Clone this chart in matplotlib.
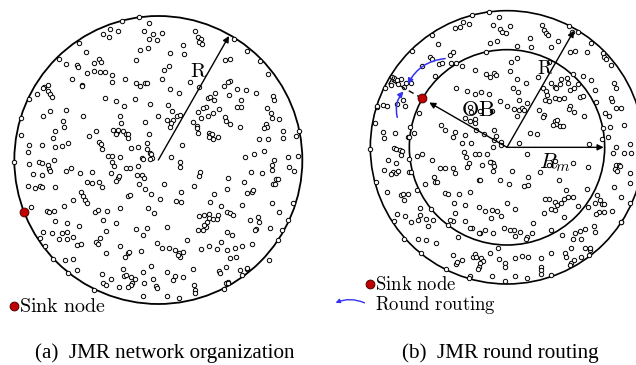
import matplotlib
matplotlib.use("Agg")
import matplotlib.pyplot as plt
from matplotlib.patches import Circle, FancyArrowPatch
import numpy as np

plt.rcParams['mathtext.fontset'] = 'cm'

# ---------------- data (node positions; units = 1/3 px) -------------
# panel (a): network organization
a_boundary_x = [418, 366, 238, 177, 88, 64, 62, 42, 93, 119, 136, 160, 205, 283, 703, 742, 780, 803, 896, 895, 880, 865, 846, 835, 808, 740, 727, 685, 673]
a_boundary_y = [52, 63, 128, 176, 296, 353, 405, 486, 620, 713, 738, 778, 818, 870, 118, 152, 183, 221, 393, 468, 608, 660, 690, 720, 780, 805, 825, 848, 866]
a_nodes_x = [448, 330, 354, 310, 326, 433, 458, 448, 471, 485, 585, 593, 604, 598, 606, 549, 551, 509, 444, 420, 408, 257, 197, 230, 234, 281, 297, 304, 262, 281, 301, 314, 336, 215, 247, 245, 337, 376, 407, 420, 435, 441, 485, 492, 507, 571, 598, 509, 536, 133, 143, 128, 145, 150, 155, 110,
             674, 689, 690, 683, 671, 710, 738, 768, 820, 822, 800, 722, 722, 710, 687, 645, 625, 630, 643, 617, 609, 640, 657, 594, 603, 623, 580, 676, 679, 689, 719, 812, 816, 838, 797, 800, 793, 848, 888, 803, 778, 848, 591, 592, 594, 626, 631, 636, 640, 653, 627, 545,
             128, 150, 197, 188, 192, 250, 359, 362, 373, 349, 316, 405, 450, 505, 517, 530, 541, 520, 500, 511, 513, 475, 435, 350, 339, 353, 348, 370, 377, 385, 383, 448, 413, 393, 440, 440, 449, 452, 427, 455, 268, 288, 298, 304, 307, 323, 337, 361, 336, 342, 377, 389, 414, 430, 450, 165, 160, 165, 185, 205, 125, 86, 84, 88, 117, 127, 144, 146, 150, 163, 98, 127, 198, 213, 240, 276, 84, 104, 120, 125, 164, 261, 276, 298, 306, 334, 353, 349, 357, 412, 425, 432, 493, 416, 434, 383, 389, 452, 480, 528, 542, 542, 512, 539, 541, 601, 581, 597,
             683, 731, 680, 740, 755, 760, 753, 787, 822, 817, 815, 827, 833, 820, 825, 863, 868, 883, 735, 762, 793, 641, 630, 664, 680, 690, 596, 611, 627, 628, 640, 650, 655, 622, 619, 608, 595, 612, 698, 726, 750, 775, 777, 769, 764, 815, 836, 810, 680, 695,
             142, 148, 162, 192, 220, 243, 248, 255, 260, 284, 293, 322, 308, 165, 200, 238, 186, 200, 155, 130, 176, 200, 218, 230, 243, 288, 300, 294, 319, 348, 360, 408, 442, 430, 463, 445, 502, 470, 485, 507, 524, 537, 541, 548, 533, 560, 422, 383, 388, 375, 360, 318, 194, 218, 231, 307, 310, 318, 333, 357, 370, 373, 379, 393, 397, 392, 384, 405, 428, 453, 432, 460, 468, 470, 500, 520, 525, 550, 580, 583, 585, 586, 602, 627, 650, 664, 680, 690, 709, 704, 726, 757, 657, 660, 678, 679, 684, 720, 740, 430, 500, 536]
a_nodes_y = [70, 87, 93, 103, 110, 93, 103, 116, 120, 99, 93, 110, 118, 127, 131, 135, 163, 160, 143, 150, 180, 157, 193, 195, 200, 189, 178, 185, 218, 214, 215, 215, 224, 238, 255, 258, 245, 237, 248, 257, 248, 249, 237, 210, 198, 245, 262, 266, 278, 262, 254, 265, 272, 283, 290, 282,
             180, 177, 242, 247, 258, 268, 270, 280, 287, 300, 325, 299, 321, 321, 286, 279, 293, 290, 300, 320, 325, 340, 328, 335, 355, 349, 365, 351, 363, 371, 381, 340, 355, 357, 372, 380, 385, 392, 408, 417, 417, 415, 378, 384, 398, 400, 406, 402, 418, 412, 410, 435,
             348, 332, 330, 363, 380, 348, 348, 368, 318, 302, 295, 297, 312, 316, 333, 348, 345, 360, 360, 381, 368, 348, 367, 395, 390, 389, 403, 392, 403, 403, 413, 402, 441, 445, 430, 447, 458, 462, 473, 473, 408, 393, 427, 432, 447, 468, 467, 470, 486, 497, 503, 505, 498, 477, 478, 393, 415, 440, 437, 428, 435, 435, 455, 493, 487, 490, 495, 508, 514, 481, 522, 526, 512, 505, 520, 515, 557, 565, 558, 562, 560, 546, 550, 547, 560, 518, 534, 542, 528, 526, 524, 535, 553, 551, 568, 588, 585, 583, 598, 603, 605, 575, 470, 485, 500, 515, 559, 528,
             534, 545, 568, 578, 575, 570, 516, 518, 480, 495, 510, 536, 538, 553, 553, 470, 500, 512, 470, 462, 453, 583, 605, 617, 636, 640, 648, 645, 643, 654, 658, 657, 645, 667, 680, 690, 690, 675, 645, 616, 660, 652, 665, 686, 690, 608, 637, 685, 697, 706,
             634, 636, 632, 617, 600, 575, 588, 600, 608, 636, 630, 632, 660, 662, 668, 677, 698, 697, 700, 695, 718, 717, 712, 735, 733, 727, 713, 733, 694, 668, 624, 686, 683, 706, 638, 623, 680, 730, 745, 745, 750, 760, 770, 755, 765, 720, 752, 760, 755, 772, 738, 760, 780, 777, 810, 822, 850, 855, 838, 862, 808, 828, 826, 830, 848, 855, 860, 838, 817, 798, 850, 838, 858, 863, 815, 840, 828, 830, 808, 855, 870, 878, 748, 737, 746, 727, 750, 773, 770, 744, 738, 732, 812, 820, 800, 848, 845, 810, 806, 888, 888, 893]

# panel (b): round routing
b_outer_x = [463, 513, 343, 283, 221, 177, 172, 155, 175, 229, 258, 310, 383, 452, 560, 700, 768, 858, 910, 935, 937, 918, 880, 855, 819, 781, 752]
b_outer_y = [46, 37, 105, 152, 230, 318, 370, 447, 546, 663, 718, 760, 808, 835, 843, 825, 780, 612, 667, 608, 550, 375, 295, 158, 130, 97, 79]
b_inner_x = [503, 350, 302, 272, 272, 280, 298, 340, 389, 483, 592, 700, 810, 855, 852, 833, 765, 693]
b_inner_y = [157, 228, 340, 410, 478, 517, 570, 627, 675, 700, 707, 690, 620, 385, 417, 305, 222, 185]
b_nodes_x = [427, 434, 452, 410, 524, 543, 546, 551, 565, 577, 517, 538, 598, 637, 640, 672, 679, 683, 690, 700, 720, 761, 755, 771, 807, 857, 863, 878, 360, 395, 404, 400, 413, 335, 342, 311, 362, 372, 248, 227, 236, 263, 278, 240, 258, 200, 218, 178, 196, 208, 238, 255, 260,
             195, 197, 231, 275, 270, 287, 228, 235, 246, 253, 250, 210, 235, 197, 226, 233, 240, 218, 272, 206, 250, 254, 270, 258, 238, 260, 278, 305, 306, 301, 323, 346, 330, 300, 323, 355, 420, 405, 413, 418, 432, 464, 470, 475, 490, 495, 487, 483, 480, 517, 540, 543, 560, 560, 590, 612, 630, 668, 668, 668, 668, 700, 741, 745, 760, 756, 790, 812, 815, 456, 522, 592, 626,
             888, 893, 883, 893, 910, 860, 873, 876, 870, 893, 918, 935, 940, 885, 895, 903, 907, 890, 898, 937, 887, 910, 837, 847, 852, 830, 842, 833, 858, 883, 908, 787, 802, 828, 830, 770, 733, 766, 790, 760, 800, 815, 628, 624, 641, 605, 588, 575, 558, 525, 500, 485, 462, 405, 396, 440,
             433, 470, 503, 515, 528, 535, 575, 580, 597, 598, 625, 584, 601, 602, 587, 603, 613, 628, 618, 598, 567, 547, 523, 513, 488, 470, 447, 415, 455, 458, 440, 455, 470, 470, 486, 527, 533, 527, 548, 548, 525, 497, 475, 440, 410, 405, 382, 370, 432, 437, 443, 458, 472, 483, 508, 520, 524, 528, 515, 491, 452, 448, 405, 410, 382, 365, 342, 313, 298, 320, 348, 352, 357, 381, 390, 408, 424, 456, 482, 487, 524, 545, 572, 582, 618, 629, 630, 667, 694, 712, 722, 744, 764, 809, 808, 779, 765, 750, 738, 730, 711, 718, 700, 693, 681, 679, 710, 738, 644, 567, 521, 537, 548, 502, 520, 483, 440, 410, 457, 592,
             660, 675, 685, 699, 710, 713, 725, 728, 750, 755, 767, 781, 787, 795, 818, 830, 710, 688, 680, 693, 722, 738, 757, 754, 767, 797, 663, 678, 676, 710, 713, 718, 725, 735, 704, 636, 602, 628, 656, 813, 748, 795]
b_nodes_y = [80, 67, 73, 85, 75, 52, 87, 97, 100, 77, 130, 122, 137, 115, 140, 75, 90, 100, 105, 140, 122, 97, 155, 153, 155, 172, 177, 195, 133, 165, 157, 188, 188, 172, 177, 197, 192, 190, 238, 233, 240, 248, 250, 253, 260, 265, 255, 320, 315, 317, 312, 300, 317,
             395, 415, 398, 380, 410, 400, 443, 447, 450, 452, 465, 480, 488, 510, 515, 518, 513, 522, 515, 575, 585, 583, 583, 600, 643, 647, 665, 625, 645, 660, 658, 660, 678, 718, 720, 730, 710, 765, 793, 787, 780, 770, 762, 770, 773, 784, 790, 800, 806, 758, 743, 778, 790, 800, 775, 768, 770, 775, 800, 810, 822, 760, 760, 770, 790, 795, 770, 765, 750, 827, 828, 828, 835,
             248, 263, 303, 325, 325, 340, 348, 380, 410, 440, 460, 432, 460, 460, 494, 495, 497, 508, 512, 518, 560, 590, 585, 600, 612, 608, 635, 641, 637, 633, 665, 692, 688, 677, 697, 700, 705, 718, 718, 743, 745, 745, 712, 718, 700, 697, 690, 690, 683, 700, 690, 698, 684, 662, 661, 664,
             197, 211, 222, 230, 220, 225, 212, 185, 173, 238, 250, 264, 275, 300, 328, 330, 325, 310, 330, 348, 317, 303, 333, 282, 275, 282, 272, 265, 320, 335, 355, 362, 357, 370, 332, 390, 407, 420, 427, 436, 440, 402, 390, 405, 395, 410, 390, 375, 428, 455, 470, 428, 462, 462, 462, 485, 490, 498, 485, 496, 490, 500, 505, 520, 503, 503, 480, 462, 468, 552, 532, 546, 546, 580, 583, 608, 583, 576, 540, 540, 512, 540, 553, 512, 557, 556, 530, 516, 495, 483, 540, 570, 490, 500, 567, 617, 590, 590, 596, 608, 606, 614, 628, 597, 598, 640, 630, 650, 670, 610, 630, 633, 648, 632, 655, 622, 615, 638, 683, 628,
             230, 265, 273, 250, 260, 263, 253, 237, 250, 270, 265, 253, 290, 288, 240, 270, 295, 285, 300, 302, 297, 295, 318, 326, 337, 348, 330, 345, 350, 362, 373, 360, 378, 378, 376, 398, 430, 462, 402, 432, 233, 228]

# geometry (same units)
a_center = (475, 480)
a_radius = 432
a_sink = (72, 636)
b_center = (567, 442)
b_outer_r = 410
b_inner_r = 293
b_sink = (312, 295)

# ---------------- figure ----------------
W, H = 636, 365
fig = plt.figure(figsize=(W / 100, H / 100), dpi=100)

def panel_axes(x0):
    ax = fig.add_axes([x0 / W, 0, 318 / W, 1])
    ax.set_xlim(0, 954)
    ax.set_ylim(1095, 0)
    ax.axis('off')
    return ax

node_kw = dict(s=10, facecolors='white', edgecolors='black', linewidths=0.7, zorder=3, clip_on=False)
sink_kw = dict(s=40, facecolors='#c00000', edgecolors='#500000', linewidths=0.7, zorder=5, clip_on=False)
arrow_kw = dict(arrowstyle='-|>', mutation_scale=9, color='black', lw=1.0, zorder=4)

# ---- panel (a)
axa = panel_axes(0)
axa.add_patch(Circle(a_center, a_radius, fill=False, ec='black', lw=1.3, zorder=2, clip_on=False))
axa.scatter(a_nodes_x, a_nodes_y, **node_kw)
axa.scatter(a_boundary_x, a_boundary_y, **node_kw)
axa.add_patch(FancyArrowPatch(a_center, (687, 108), shrinkA=0, shrinkB=0, **arrow_kw))
axa.text(597, 212, r'$\mathrm{R}$', fontsize=15, ha='center', va='center')
axa.scatter([a_sink[0]], [a_sink[1]], **sink_kw)
axa.scatter([42], [918], **sink_kw)
axa.text(58, 918, r'$\mathrm{Sink\ node}$', fontsize=14.5, ha='left', va='center')

# ---- panel (b)
axb = panel_axes(318)
axb.add_patch(Circle(b_center, b_outer_r, fill=False, ec='black', lw=1.2, zorder=2, clip_on=True))
axb.add_patch(Circle(b_center, b_inner_r, fill=False, ec='black', lw=1.2, zorder=2))
axb.scatter(b_nodes_x, b_nodes_y, **node_kw)
axb.scatter(b_outer_x, b_outer_y, **node_kw)
axb.scatter(b_inner_x, b_inner_y, **node_kw)
axb.add_patch(FancyArrowPatch(b_center, (768, 92), shrinkA=0, shrinkB=0, **arrow_kw))
axb.add_patch(FancyArrowPatch(b_center, (857, 442), shrinkA=0, shrinkB=0, **arrow_kw))
axb.add_patch(FancyArrowPatch(b_center, b_sink, shrinkA=0, shrinkB=6, **arrow_kw))
# dashed extension to outer circle
d = np.array(b_sink) - np.array(b_center)
d = d / np.hypot(*d)
end = np.array(b_center) + d * (b_outer_r - 8)
axb.plot([b_sink[0], end[0]], [b_sink[1], end[1]], color='black', lw=1.0, ls=(0, (4, 3)), zorder=4)
perp = np.array([-d[1], d[0]])
tk = end
axb.plot([tk[0] - perp[0] * 12, tk[0] + perp[0] * 12], [tk[1] - perp[1] * 12, tk[1] + perp[1] * 12], color='black', lw=0.9, zorder=4)
# round routing arcs
blue = '#3333ee'
axb.add_patch(FancyArrowPatch((390, 175), (266, 260), connectionstyle='arc3,rad=0.3',
                              arrowstyle='-|>', mutation_scale=8, color=blue, lw=1.1, zorder=4))
axb.add_patch(FancyArrowPatch((240, 360), (262, 268), connectionstyle='arc3,rad=-0.3',
                              arrowstyle='-|>', mutation_scale=8, color=blue, lw=1.1, zorder=4))
axb.scatter([b_sink[0]], [b_sink[1]], **sink_kw)
axb.text(480, 330, r'$\mathrm{OB}$', fontsize=16, ha='center', va='center', zorder=6)
axb.text(680, 205, r'$\mathrm{R}$', fontsize=14, ha='center', va='center', zorder=6)
axb.text(712, 488, r'$R_m$', fontsize=16, ha='center', va='center', zorder=6)
# legend
axb.scatter([155], [852], **sink_kw)
axb.text(172, 852, r'$\mathrm{Sink\ node}$', fontsize=13.5, ha='left', va='center')
axb.add_patch(FancyArrowPatch((147, 912), (45, 912), connectionstyle='arc3,rad=0.25',
                              arrowstyle='-|>', mutation_scale=6, color=blue, lw=1.0, zorder=4, clip_on=False))
axb.text(172, 914, r'$\mathrm{Round\ routing}$', fontsize=13.5, ha='left', va='center')

# captions
fig.text(165 / W, 1 - 358 / H, '(a)  JMR network organization', fontsize=15.2,
         family='Liberation Serif', ha='center', va='baseline')
fig.text(500 / W, 1 - 358 / H, '(b)  JMR round routing', fontsize=15.2,
         family='Liberation Serif', ha='center', va='baseline')

fig.savefig('out.png', dpi=100)
